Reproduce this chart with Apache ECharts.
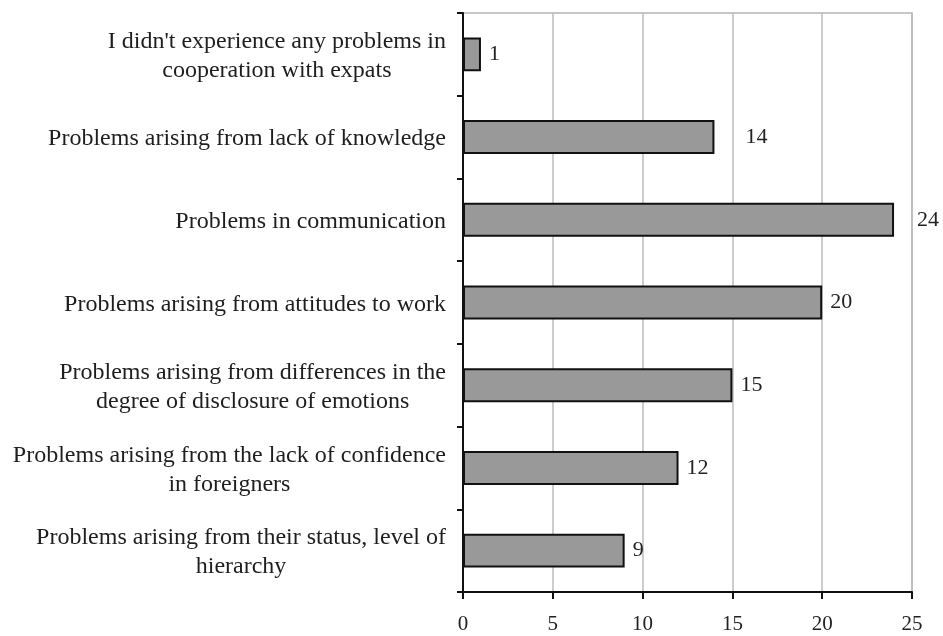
<!DOCTYPE html>
<html>
<head>
<meta charset="utf-8">
<script src="https://cdn.jsdelivr.net/npm/echarts@6/dist/echarts.min.js"></script>
<style>
  html, body { margin: 0; padding: 0; background: #ffffff; }
  #chart { width: 943px; height: 636px; }
</style>
</head>
<body>
<div id="chart"></div>
<script>
// Problem categories, listed top to bottom
const categories = [
  "I didn't experience any problems in\ncooperation with expats",
  "Problems arising from lack of knowledge",
  "Problems in communication",
  "Problems arising from attitudes to work",
  "Problems arising from differences in the\ndegree of disclosure of emotions",
  "Problems arising from the lack of confidence\nin foreigners",
  "Problems arising from their status, level of\nhierarchy"
];

// Number of responses per category
const responses = [1, 14, 24, 20, 15, 12, 9];

// Value axis ticks
const axisMin = 0;
const axisMax = 25;
const axisStep = 5;

// Gap between a bar end and its value label (px), per bar
const valueLabelGap = [8, 31, 23, 8, 8, 8, 8];

const FONT = '"Liberation Serif", "Times New Roman", serif';

const chart = echarts.init(document.getElementById('chart'), null, { renderer: 'canvas' });

chart.setOption({
  backgroundColor: '#ffffff',
  animation: false,
  grid: {
    left: 463, right: 31, top: 13, bottom: 44, containLabel: false,
    show: true, borderColor: '#b5b5b5', borderWidth: 1.5, backgroundColor: 'transparent'
  },
  xAxis: {
    type: 'value',
    min: axisMin,
    max: axisMax,
    interval: axisStep,
    axisLine: { show: true, lineStyle: { color: '#111', width: 2 } },
    axisTick: { show: true, length: 7, lineStyle: { color: '#111', width: 2 } },
    axisLabel: { margin: 22, fontFamily: FONT, fontSize: 21, color: '#222' },
    splitLine: { show: true, lineStyle: { color: '#bdbdbd', width: 1.5 } }
  },
  yAxis: {
    type: 'category',
    inverse: true,
    data: categories,
    axisLine: { show: true, lineStyle: { color: '#111', width: 2 } },
    axisTick: { show: true, length: 6, lineStyle: { color: '#111', width: 2 } },
    axisLabel: {
      margin: 17,
      fontFamily: FONT,
      fontSize: 24,
      lineHeight: 29,
      color: '#1e1e1e',
      formatter: function (v) {
        return v.split('\n').map(function (line) { return '{c|' + line + '}'; }).join('\n');
      },
      rich: {
        c: { align: 'center', fontFamily: FONT, fontSize: 24, lineHeight: 29, color: '#1e1e1e', padding: [4, 0, 0, 0] }
      }
    },
    splitLine: { show: false }
  },
  series: [{
    type: 'bar',
    barCategoryGap: '59%',
    data: responses.map(function (v, i) {
      return { value: v, label: { distance: valueLabelGap[i] } };
    }),
    itemStyle: { color: '#999999', borderColor: '#111', borderWidth: 2 },
    label: {
      show: true,
      position: 'right',
      fontFamily: FONT,
      fontSize: 22,
      color: '#222'
    }
  }]
});
</script>
</body>
</html>
